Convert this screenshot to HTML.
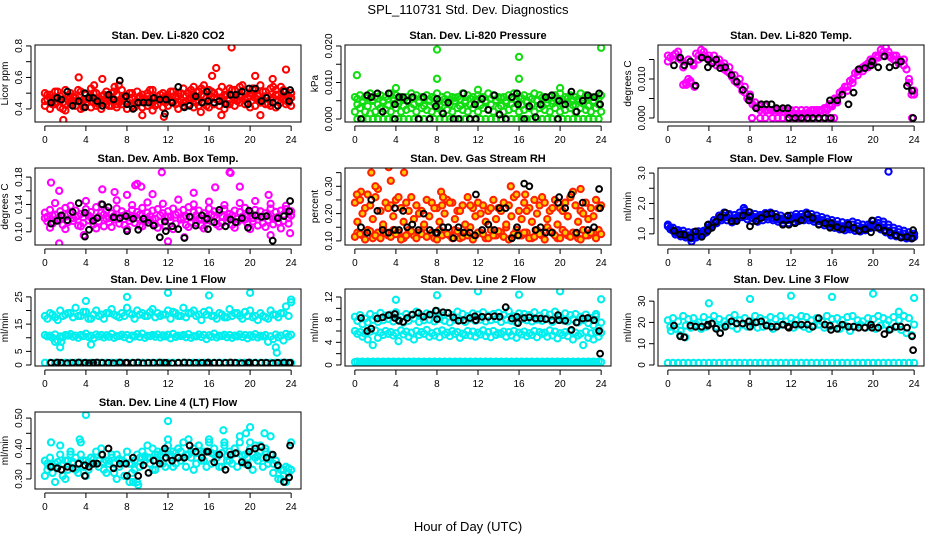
<!DOCTYPE html>
<html><head><meta charset="utf-8"><style>
body{margin:0;background:#fff;}
svg{display:block;font-family:"Liberation Sans",Arial,sans-serif;}
</style></head><body>
<svg id="chart" width="936" height="540" viewBox="0 0 936 540" xmlns="http://www.w3.org/2000/svg">
<rect width="936" height="540" fill="#fff"/>
<text x="468" y="14" font-size="13" text-anchor="middle">SPL_110731  Std. Dev. Diagnostics</text>
<text x="468" y="531" font-size="13" text-anchor="middle">Hour of Day (UTC)</text>
</svg>
<script>
const hrs=[0,0.5,1,1.5,2,2.5,3,3.5,4,4.5,5,5.5,6,6.5,7,7.5,8,8.5,9,9.5,10,10.5,11,11.5,12,12.5,13,13.5,14,14.5,15,15.5,16,16.5,17,17.5,18,18.5,19,19.5,20,20.5,21,21.5,22,22.5,23,23.5,24];
const hrsB=[0.25,0.75,1.25,1.75,2.25,2.75,3.25,3.75,4.25,4.75,5.25,5.75,6.25,6.75,7.25,7.75,8.25,8.75,9.25,9.75,10.25,10.75,11.25,11.75,12.25,12.75,13.25,13.75,14.25,14.75,15.25,15.75,16.25,16.75,17.25,17.75,18.25,18.75,19.25,19.75,20.25,20.75,21.25,21.75,22.25,22.75,23.25,23.75];
const kx=[0.6,1.2,1.6,2.2,2.7,3.3,3.9,3.9,4.3,4.7,5.1,5.6,6.2,6.7,7.3,7.9,8.0,8.6,9.1,9.6,10.1,10.6,11.2,11.7,11.8,12.4,13.0,13.6,14.1,14.7,15.3,15.8,15.9,16.5,17.0,17.6,18.1,18.6,19.2,19.8,19.9,20.5,21.1,21.6,22.2,22.7,23.3,23.8,23.9];
const xTicks=[0,4,8,12,16,20,24];

// Panel 1 CO2
const co2A=[0.50,0.49,0.51,0.48,0.52,0.50,0.47,0.51,0.49,0.53,0.50,0.48,0.51,0.50,0.49,0.52,0.48,0.50,0.51,0.49,0.50,0.52,0.48,0.50,0.49,0.51,0.50,0.53,0.50,0.49,0.51,0.55,0.52,0.50,0.51,0.49,0.53,0.52,0.54,0.51,0.50,0.52,0.55,0.51,0.53,0.52,0.54,0.51,0.50];
const co2B=[0.42,0.40,0.43,0.41,0.39,0.43,0.42,0.40,0.44,0.41,0.42,0.40,0.43,0.42,0.41,0.43,0.40,0.42,0.44,0.41,0.42,0.39,0.43,0.41,0.42,0.44,0.40,0.42,0.43,0.41,0.42,0.44,0.41,0.43,0.42,0.40,0.43,0.42,0.44,0.43,0.41,0.42,0.44,0.43,0.42,0.41,0.44,0.43,0.42];
const co2C=[0.46,0.45,0.47,0.44,0.46,0.48,0.45,0.46,0.47,0.44,0.46,0.45,0.47,0.46,0.45,0.48,0.46,0.44,0.47,0.46,0.45,0.47,0.46,0.48,0.45,0.47,0.46,0.48,0.47,0.45,0.49,0.47,0.48,0.46,0.47,0.49,0.48,0.46,0.48,0.47,0.49,0.48,0.46,0.48,0.47,0.49,0.46,0.47];
const co2D=[0.49,0.43,0.51,0.40,0.48,0.44,0.52,0.41,0.47,0.50,0.43,0.49,0.42,0.51,0.44,0.47,0.50,0.41,0.48,0.45,0.52,0.42,0.49,0.44,0.51,0.43,0.50,0.45,0.52,0.44,0.53,0.42,0.51,0.46,0.54,0.43,0.52,0.45,0.55,0.44,0.53,0.46,0.51,0.43,0.54,0.45,0.52,0.44];
const co2E=[0.45,0.47,0.44,0.46,0.43,0.47,0.45,0.44,0.46,0.48,0.44,0.46,0.45,0.47,0.43,0.46,0.45,0.47,0.44,0.46,0.48,0.44,0.46,0.45,0.47,0.45,0.48,0.44,0.46,0.47,0.45,0.48,0.46,0.47,0.45,0.48,0.46,0.47,0.49,0.46,0.48,0.47,0.45,0.48,0.46,0.49,0.47,0.46,0.47];
const co2OX=[1.8,3.3,5.6,7.2,16.7,18.2,23.5,16.3,20.5,22.2,9.5,11.6,15.2,17.2,21,4.8,14.5,6.8];
const co2OY=[0.33,0.60,0.59,0.55,0.66,0.79,0.65,0.61,0.61,0.59,0.36,0.35,0.38,0.36,0.36,0.55,0.54,0.54];
const co2K=[0.44,0.47,0.46,0.51,0.42,0.45,0.41,0.50,0.47,0.47,0.45,0.42,0.49,0.46,0.58,0.48,0.43,0.40,0.44,0.44,0.44,0.47,0.46,0.37,0.46,0.44,0.54,0.41,0.42,0.48,0.44,0.51,0.45,0.44,0.45,0.43,0.49,0.49,0.51,0.43,0.53,0.53,0.45,0.47,0.44,0.42,0.51,0.45,0.52];

// Panel 2 Pressure
const prA=[0.006,0.0065,0.006,0.007,0.006,0.0065,0.006,0.007,0.0065,0.006,0.006,0.007,0.0065,0.006,0.0065,0.006,0.007,0.006,0.0065,0.006,0.006,0.007,0.0065,0.006,0.0065,0.006,0.007,0.0065,0.006,0.006,0.0065,0.007,0.006,0.0065,0.006,0.007,0.0065,0.006,0.006,0.0065,0.007,0.006,0.0065,0.006,0.007,0.0065,0.006,0.006,0.0065];
const prB=[0.004,0.0045,0.0035,0.005,0.004,0.0045,0.0038,0.005,0.0042,0.0036,0.0048,0.004,0.0045,0.0035,0.005,0.0042,0.0038,0.0046,0.004,0.005,0.0036,0.0044,0.004,0.0048,0.0038,0.0045,0.004,0.005,0.0036,0.0044,0.0042,0.0048,0.0038,0.0045,0.004,0.005,0.0036,0.0044,0.0042,0.0048,0.004,0.0045,0.0038,0.005,0.0042,0.0036,0.0046,0.004];
const prC=[0.002,0.003,0.002,0.0015,0.002,0.003,0.0025,0.002,0.003,0.002,0.0025,0.003,0.002,0.003,0.0025,0.002,0.003,0.002,0.0025,0.002,0.003,0.0025,0.002,0.003,0.002,0.003,0.0025,0.002,0.003,0.002,0.0025,0.003,0.002,0.0025,0.003,0.002,0.003,0.0025,0.002,0.003,0.002,0.0025,0.003,0.002,0.003,0.0025,0.002,0.003,0.002];
const prD=[0,0,0,0,0,0,0,0,0,0,0,0,0,0,0,0,0,0,0,0,0,0,0,0,0,0,0,0,0,0,0,0,0,0,0,0,0,0,0,0,0,0,0,0,0,0,0,0];
const prE=[0.0055,0.005,0.0058,0.0052,0.0056,0.005,0.0054,0.0057,0.005,0.0055,0.0052,0.0058,0.005,0.0056,0.0053,0.0057,0.005,0.0055,0.0052,0.0058,0.0054,0.005,0.0056,0.0053,0.0057,0.005,0.0055,0.0052,0.0058,0.005,0.0056,0.0053,0.0057,0.005,0.0055,0.0052,0.0058,0.0054,0.005,0.0056,0.0053,0.0057,0.005,0.0055,0.0052,0.0058,0.005,0.0056];
const prOX=[0.2,8,8,16,16,24,4,12,20];
const prOY=[0.012,0.019,0.011,0.017,0.011,0.0195,0.0085,0.008,0.0085];
const prK=[0.0,0.0065,0.006,0.007,0.002,0.007,0.0,0.004,0.006,0.006,0.005,0.006,0.0,0.006,0.0,0.0035,0.0055,0.0015,0.0045,0.0,0.0,0.007,0.0,0.004,0.0,0.0055,0.0025,0.0065,0.0012,0.0,0.006,0.007,0.004,0.0,0.0035,0.0005,0.004,0.006,0.0065,0.0,0.005,0.004,0.0075,0.002,0.005,0.0065,0.006,0.007,0.004];

// Panel 3 Li-820 Temp
const tmA=[0.016,0.016,0.017,0.013,0.015,0.014,0.016,0.017,0.016,0.016,0.015,0.014,0.013,0.011,0.010,0.008,0.006,0.004,0.003,0.003,0.002,0.002,0.002,0.002,0.001,0.001,0.001,0.001,0.001,0.001,0.002,0.002,0.003,0.004,0.006,0.007,0.009,0.011,0.012,0.013,0.014,0.016,0.017,0.017,0.016,0.015,0.015,0.010,0.007];
const tmB=[0.0155,0.0165,0.015,0.009,0.009,0.0165,0.0175,0.0155,0.0145,0.0135,0.0135,0.012,0.0105,0.009,0.007,0.005,0.0035,0.0025,0.0025,0.002,0.002,0.002,0.0015,0.001,0.001,0.001,0.001,0.0015,0.002,0.002,0.0025,0.0035,0.005,0.0065,0.008,0.0095,0.0115,0.0125,0.0135,0.015,0.016,0.0175,0.018,0.0155,0.016,0.0145,0.0125,0.006];
const tmC=[0.0145,0.015,0.0155,0.0085,0.01,0.0135,0.015,0.016,0.015,0.0145,0.014,0.0125,0.0115,0.0095,0.0085,0.0065,0.0045,0.003,0.002,0.002,0.002,0.002,0.002,0.002,0.002,0.002,0.002,0.002,0.002,0.002,0.002,0.0025,0.0035,0.005,0.007,0.008,0.010,0.012,0.013,0.014,0.015,0.0155,0.016,0.016,0.015,0.014,0.0135,0.009,0.006];
const tmZX=[8.2,9,9.5,10.2,10.7,11.2,11.7,12.2,12.7,13.2,13.7,14.2,14.7,15.2,15.7,16.2,23.8,1.8,2.2,2.6];
const tmZY=[0,0,0,0,0,0,0,0,0,0,0,0,0,0,0,0,0,0.0085,0.0095,0.0080];
const tmK=[0.0135,0.0155,0.0135,0.0145,0.0083,0.0155,0.013,0.015,0.014,0.015,0.0128,0.013,0.011,0.0093,0.0072,0.0045,0.0055,0.0025,0.0035,0.0035,0.0035,0.0025,0.0025,0.0025,0.0,0.0,0.0,0.0,0.0,0.0,0.0,0.0045,0.0,0.0045,0.006,0.0035,0.0065,0.0125,0.0128,0.0135,0.0145,0.013,0.0158,0.013,0.0135,0.0145,0.0082,0.007,0.0];

// Panel 4 Amb box temp
const abA=[0.128,0.132,0.125,0.130,0.135,0.127,0.131,0.126,0.133,0.129,0.136,0.128,0.131,0.127,0.134,0.130,0.126,0.132,0.129,0.135,0.128,0.131,0.133,0.127,0.130,0.134,0.128,0.132,0.136,0.129,0.131,0.127,0.134,0.130,0.128,0.133,0.126,0.131,0.129,0.135,0.128,0.132,0.130,0.127,0.134,0.129,0.131,0.133,0.130];
const abB=[0.115,0.112,0.118,0.110,0.114,0.116,0.109,0.113,0.117,0.111,0.115,0.108,0.114,0.118,0.112,0.110,0.116,0.113,0.109,0.115,0.117,0.111,0.114,0.108,0.116,0.112,0.118,0.110,0.114,0.113,0.109,0.117,0.115,0.111,0.113,0.116,0.110,0.114,0.118,0.112,0.115,0.109,0.113,0.117,0.111,0.114,0.116,0.112];
const abC=[0.120,0.106,0.142,0.118,0.104,0.138,0.122,0.108,0.145,0.121,0.105,0.140,0.119,0.107,0.146,0.123,0.104,0.139,0.120,0.108,0.143,0.118,0.106,0.141,0.122,0.104,0.147,0.121,0.107,0.140,0.119,0.105,0.144,0.123,0.108,0.139,0.120,0.106,0.142,0.118,0.104,0.145,0.122,0.107,0.141,0.120,0.105,0.138,0.124];
const abD=[0.122,0.124,0.119,0.121,0.125,0.120,0.123,0.121,0.124,0.118,0.122,0.125,0.120,0.123,0.119,0.124,0.121,0.122,0.125,0.120,0.123,0.119,0.124,0.121,0.122,0.125,0.120,0.123,0.121,0.124,0.119,0.122,0.125,0.120,0.123,0.121,0.124,0.119,0.122,0.125,0.120,0.123,0.121,0.124,0.119,0.122,0.125,0.120];
const abOX=[0.6,1.4,1.4,3.8,5.6,6.8,8,8.8,9,9.4,11.4,12,13.6,16.6,18,18.1,19,22,23.9,21.8,10.5,14.5];
const abOY=[0.172,0.16,0.083,0.095,0.162,0.158,0.154,0.168,0.17,0.166,0.187,0.086,0.092,0.165,0.187,0.186,0.166,0.095,0.098,0.154,0.155,0.157];
const abK=[0.112,0.116,0.124,0.117,0.129,0.142,0.093,0.128,0.103,0.116,0.120,0.140,0.136,0.121,0.120,0.123,0.101,0.119,0.103,0.119,0.113,0.109,0.092,0.115,0.101,0.108,0.104,0.091,0.122,0.109,0.124,0.119,0.104,0.114,0.132,0.108,0.118,0.114,0.120,0.106,0.131,0.124,0.122,0.123,0.087,0.120,0.123,0.130,0.145];

// Panel 5 Gas stream RH
const rhA=[0.24,0.25,0.22,0.23,0.26,0.21,0.24,0.23,0.25,0.22,0.24,0.26,0.23,0.21,0.25,0.24,0.22,0.23,0.25,0.24,0.21,0.23,0.26,0.22,0.24,0.23,0.21,0.25,0.22,0.24,0.23,0.26,0.21,0.24,0.22,0.25,0.23,0.24,0.21,0.25,0.22,0.24,0.26,0.23,0.21,0.24,0.22,0.25,0.23];
const rhB=[0.13,0.12,0.14,0.11,0.13,0.15,0.12,0.14,0.13,0.11,0.14,0.12,0.13,0.15,0.12,0.11,0.14,0.13,0.12,0.14,0.11,0.13,0.15,0.12,0.13,0.11,0.14,0.12,0.13,0.15,0.11,0.14,0.12,0.13,0.11,0.14,0.12,0.15,0.13,0.11,0.14,0.12,0.13,0.11,0.14,0.12,0.13,0.14];
const rhC=[0.115,0.125,0.105,0.135,0.12,0.11,0.13,0.115,0.125,0.105,0.12,0.135,0.11,0.125,0.115,0.13,0.105,0.12,0.125,0.11,0.135,0.115,0.12,0.105,0.13,0.125,0.11,0.12,0.135,0.115,0.105,0.125,0.12,0.13,0.11,0.115,0.125,0.105,0.135,0.12,0.11,0.13,0.115,0.125,0.105,0.12,0.13,0.11,0.125];
const rhD=[0.17,0.20,0.27,0.18,0.29,0.16,0.22,0.19,0.26,0.17,0.21,0.18,0.20,0.16,0.19,0.22,0.17,0.20,0.24,0.18,0.21,0.16,0.23,0.19,0.20,0.17,0.22,0.18,0.21,0.16,0.19,0.27,0.18,0.21,0.17,0.20,0.26,0.18,0.22,0.16,0.21,0.19,0.28,0.17,0.20,0.18,0.19,0.22];
const rhOX=[0.6,1.6,3.3,3.5,4.8,2,8.4,8.6,15.2,22,16.6,0.2];
const rhOY=[0.28,0.35,0.37,0.32,0.35,0.30,0.28,0.26,0.30,0.29,0.27,0.27];
const rhK=[0.15,0.13,0.25,0.21,0.14,0.13,0.22,0.14,0.14,0.21,0.15,0.16,0.14,0.20,0.14,0.13,0.13,0.15,0.15,0.11,0.15,0.13,0.13,0.12,0.27,0.14,0.16,0.14,0.22,0.22,0.11,0.15,0.12,0.31,0.30,0.14,0.15,0.13,0.13,0.24,0.26,0.22,0.27,0.13,0.24,0.14,0.15,0.29,0.22];

// Panel 6 Sample flow
const sfA=[1.25,1.1,1.05,1.0,0.95,0.95,1.0,1.0,1.2,1.35,1.5,1.6,1.6,1.5,1.6,1.7,1.6,1.55,1.55,1.6,1.6,1.55,1.5,1.45,1.5,1.55,1.55,1.6,1.55,1.5,1.45,1.4,1.35,1.3,1.25,1.25,1.3,1.25,1.2,1.2,1.3,1.35,1.3,1.2,1.1,1.05,1.0,0.95,0.9];
const sfB=[1.15,0.98,0.92,0.88,0.85,0.88,0.92,1.05,1.22,1.35,1.45,1.45,1.38,1.48,1.55,1.48,1.42,1.40,1.45,1.48,1.45,1.40,1.35,1.35,1.40,1.42,1.45,1.45,1.40,1.32,1.28,1.25,1.20,1.15,1.12,1.15,1.10,1.08,1.12,1.20,1.22,1.15,1.05,0.95,0.92,0.88,0.85,0.85];
const sfC=[1.30,1.20,1.12,1.10,1.05,1.05,1.08,1.10,1.30,1.45,1.60,1.70,1.65,1.62,1.70,1.78,1.70,1.65,1.62,1.68,1.70,1.65,1.60,1.55,1.60,1.65,1.65,1.70,1.65,1.60,1.55,1.50,1.45,1.42,1.38,1.35,1.40,1.35,1.30,1.30,1.42,1.45,1.40,1.30,1.20,1.15,1.10,1.05,1.00];
const sfD=[1.2,1.05,1.0,0.95,0.92,0.95,0.98,1.12,1.3,1.42,1.52,1.55,1.5,1.55,1.62,1.58,1.52,1.5,1.55,1.56,1.52,1.48,1.45,1.46,1.5,1.52,1.55,1.52,1.48,1.42,1.38,1.32,1.28,1.25,1.2,1.22,1.18,1.15,1.18,1.28,1.3,1.22,1.12,1.02,0.98,0.95,0.92,0.9];
const sfOX=[21.5,7.4,2.3];
const sfOY=[3.05,1.85,0.75];
const sfK=[1.10,0.98,0.97,0.88,1.08,0.90,1.10,1.30,1.20,1.40,1.55,1.70,1.42,1.42,1.60,1.72,1.25,1.42,1.52,1.65,1.67,1.55,1.30,1.60,1.30,1.35,1.45,1.65,1.52,1.30,1.35,1.20,1.35,1.22,1.15,1.30,1.20,1.10,1.15,1.05,1.44,1.20,1.10,1.05,0.95,0.88,0.90,0.85,1.12];

// Panel 7 Line 1 flow
const l1A=[18,19,17.5,20,18.5,19,21,18,19.5,17,20,18.5,19,20.5,18,19,21,18.5,20,19,18,20.5,19,18.5,20,19.5,18,21,19,20,18.5,19.5,20,18,19,17.5,20.5,19,18,19.5,20,18,19,17.5,20,18.5,19,21.5,23];
const l1B=[17,18.5,16.5,18,19,17.5,18,19.5,17,18.5,18,17,19,18.5,17.5,18,19,17,18.5,18,19.5,17.5,18,18.5,17,19,18,17.5,19,18,16.5,18.5,18,17,18.5,17.5,18,19,17,18,17.5,16.5,18,17,18.5,17.5,19,18];
const l1C=[11,10.8,11.2,10.5,11,11.3,10.8,11,11.5,10.7,11.2,11,10.9,11.4,10.6,11.1,11,10.8,11.3,11.5,10.7,11,11.2,10.9,11.1,11.4,10.8,11,11.3,10.6,11.2,11,10.9,11.5,10.7,11.1,11,10.8,11.2,11,10.9,11.3,10.7,11,10.5,11.2,10.8,11.4,11.1];
const l1D=[10.5,10,9,10.2,10.8,10.4,10,10.6,10.3,9.8,10.5,10.1,10.4,10,10.6,10.2,9.5,10.5,10.3,10,10.6,10.4,10.1,10.5,9.8,10.3,10.6,10.2,10,10.5,10.3,9.5,10.4,10.1,10.6,10.2,10,10.5,10.3,9.8,10.4,10.1,10.5,8.5,9.5,10.2,9,10.5];
const l1E=[0.8,0.8,0.8,0.8,0.8,0.8,0.8,0.8,0.8,0.8,0.8,0.8,0.8,0.8,0.8,0.8,0.8,0.8,0.8,0.8,0.8,0.8,0.8,0.8,0.8,0.8,0.8,0.8,0.8,0.8,0.8,0.8,0.8,0.8,0.8,0.8,0.8,0.8,0.8,0.8,0.8,0.8,0.8,0.8,0.8,0.8,0.8,0.8,0.8];
const l1OX=[4,8,12,16,20,24,1.5,4.5,22.5,22.6,1,1.6];
const l1OY=[23.5,25,26.5,25.5,26.5,24,6.5,7.5,6.5,4.5,8.5,8.5];
const l1K=[0.8,0.9,0.8,0.7,0.8,0.9,0.8,0.8,0.7,0.8,0.9,0.8,0.8,0.7,0.9,0.8,0.8,0.8,0.9,0.7,0.8,0.8,0.9,0.8,0.8,0.7,0.8,0.9,0.8,0.8,0.8,0.7,0.9,0.8,0.8,0.8,0.9,0.8,0.7,0.8,0.9,0.8,0.8,0.8,0.7,0.8,0.9,0.8,0.8];

// Panel 8 Line 2 flow
const l2A=[8.5,8.8,8.2,9,8.6,9.2,8.7,8.9,9.3,8.5,9,8.8,9.4,8.6,9.1,8.9,9.5,8.7,9.2,8.8,9.4,9,8.6,9.1,8.9,9.3,8.7,9,9.2,8.8,9.5,8.6,9.1,9,8.8,9.3,8.7,9.2,8.9,9.4,8.6,9.1,8.8,9,8.5,8.9,8.3,8.6,7.5];
const l2B=[7.8,7.2,7.5,8,7.6,7.9,8.1,7.7,8,7.5,7.8,8.2,7.6,7.9,8,7.7,8.1,7.8,7.5,8,7.9,7.6,8.2,7.8,8,7.7,7.9,8.1,7.6,8,7.8,7.5,8.1,7.9,7.7,8,7.8,8.2,7.6,8,7.9,7.7,8.1,7.5,7.9,7.4,7,6.5];
const l2C=[6,5.8,5.5,5.9,6.1,5.7,6,5.8,5.6,6.1,5.9,5.7,6,5.8,6.2,5.6,5.9,6.1,5.7,6,5.8,5.5,6,5.9,5.7,6.1,5.8,6,5.6,5.9,5.8,6,5.7,5.9,5.6,6,5.8,5.7,6.1,5.9,5.6,5.8,6,5.7,5.5,5.9,5.6,5.8,5.7];
const l2D=[5.5,5,4.5,3.5,4.8,5.3,5.5,5.2,4.2,5.4,5,4.5,5.3,5.5,5,5.2,4.9,5.4,5.1,5.5,4.8,5.3,5.2,5,5.4,5.1,4.9,5.3,5.5,5,5.2,4.8,5.4,5.1,5.3,4.9,5.5,5,5.2,4.7,5.3,5.1,4.5,5.2,3.5,4.8,4.5,5];
const l2E=[0.5,0.5,0.5,0.5,0.5,0.5,0.5,0.5,0.5,0.5,0.5,0.5,0.5,0.5,0.5,0.5,0.5,0.5,0.5,0.5,0.5,0.5,0.5,0.5,0.5,0.5,0.5,0.5,0.5,0.5,0.5,0.5,0.5,0.5,0.5,0.5,0.5,0.5,0.5,0.5,0.5,0.5,0.5,0.5,0.5,0.5,0.5,0.5,0.5];
const l2F=[0.6,0.6,0.6,0.6,0.6,0.6,0.6,0.6,0.6,0.6,0.6,0.6,0.6,0.6,0.6,0.6,0.6,0.6,0.6,0.6,0.6,0.6,0.6,0.6,0.6,0.6,0.6,0.6,0.6,0.6,0.6,0.6,0.6,0.6,0.6,0.6,0.6,0.6,0.6,0.6,0.6,0.6,0.6,0.6,0.6,0.6,0.6,0.6];
const l2OX=[4,8,12,16,20,24,23.5];
const l2OY=[11.5,12.3,13,12.4,13,11.6,9];
const l2K=[8.3,6,6.4,8.2,8.4,8.8,9,8.3,7.8,7.6,8.3,8.9,9.2,8.5,8.9,9.6,8.1,9.3,9.2,8.4,7.8,7.9,8.3,8.6,7.9,8.5,8.5,8.6,8.5,10.2,8.2,8.5,7.4,8.3,8.4,8.2,8.2,8.1,7.9,8.8,7.9,7.8,6.2,7.5,8.2,8.3,7.9,6,2];

// Panel 9 Line 3 flow
const l3A=[21,22,20.5,23,21.5,22,20,22.5,21,23,21.5,20.5,22,23.5,21,22,20.5,23,22,21,22.5,21.5,23,20.5,22,21,23,22.5,21,22,20.5,23,21.5,22,21,22.5,23,21,20.5,22,21.5,23,22,21,22.5,21,23,22,19];
const l3B=[18,17,16,18.5,17.5,19,17,18,19.5,18,17.5,19,18.5,17,19,18,19.5,17.5,18,19,17,18.5,19,18,17.5,19,18,17,18.5,19,17.5,18,19,17,18.5,16,18,19,17.5,18,17,18.5,19,17,18,16.5,15,14];
const l3E=[1,1,1,1,1,1,1,1,1,1,1,1,1,1,1,1,1,1,1,1,1,1,1,1,1,1,1,1,1,1,1,1,1,1,1,1,1,1,1,1,1,1,1,1,1,1,1,1,1];
const l3OX=[4,8,12,16,20,24,0.3,1.2,1.7,22.5];
const l3OY=[29,31,32.5,32,33.5,31.5,16,14,13,25];
const l3K=[18.5,13.5,13,18.5,18,18,19,18.5,19.5,17,15,18,20.5,19.5,19.5,20.5,18,20,20.5,18.5,18,18,19,18,17.5,19,19,19,18,22,19,18.5,16.5,17,19,18,18,17.5,17.5,19,17.5,17.5,14.5,16.5,18,18,17.5,13.5,7];

// Panel 10 Line 4 flow
const l4A=[0.36,0.37,0.35,0.38,0.36,0.39,0.37,0.38,0.36,0.37,0.39,0.38,0.36,0.37,0.38,0.36,0.37,0.35,0.38,0.39,0.37,0.40,0.38,0.39,0.41,0.39,0.40,0.42,0.38,0.40,0.41,0.39,0.42,0.40,0.38,0.41,0.39,0.40,0.42,0.38,0.40,0.41,0.39,0.40,0.38,0.36,0.33,0.34,0.33];
const l4B=[0.33,0.32,0.34,0.31,0.33,0.35,0.32,0.34,0.33,0.35,0.34,0.33,0.35,0.32,0.34,0.31,0.29,0.33,0.34,0.36,0.35,0.33,0.36,0.34,0.37,0.35,0.36,0.34,0.37,0.35,0.36,0.34,0.35,0.37,0.34,0.36,0.35,0.34,0.36,0.35,0.33,0.36,0.34,0.35,0.32,0.30,0.31,0.32];
const l4C=[0.31,0.34,0.29,0.41,0.30,0.38,0.33,0.42,0.31,0.37,0.35,0.40,0.32,0.38,0.30,0.36,0.39,0.32,0.29,0.37,0.41,0.33,0.39,0.35,0.43,0.34,0.40,0.37,0.43,0.33,0.41,0.36,0.43,0.38,0.34,0.42,0.36,0.40,0.44,0.35,0.42,0.37,0.41,0.39,0.44,0.36,0.30,0.29,0.42];
const l4D=[0.35,0.345,0.355,0.35,0.36,0.355,0.35,0.36,0.355,0.365,0.36,0.355,0.36,0.35,0.365,0.355,0.35,0.36,0.37,0.375,0.37,0.38,0.375,0.385,0.38,0.385,0.39,0.38,0.39,0.385,0.38,0.39,0.385,0.38,0.385,0.375,0.38,0.385,0.375,0.37,0.38,0.375,0.37,0.365,0.35,0.34,0.33,0.335];
const l4OX=[4,12,17.4,20,19.6,21.4,0.6,3.4,8.6,9.1];
const l4OY=[0.51,0.49,0.46,0.47,0.45,0.45,0.42,0.43,0.29,0.28];
const l4K=[0.34,0.335,0.33,0.34,0.335,0.35,0.31,0.345,0.34,0.35,0.35,0.38,0.40,0.335,0.35,0.35,0.31,0.37,0.31,0.345,0.32,0.36,0.35,0.40,0.37,0.36,0.37,0.37,0.41,0.39,0.37,0.39,0.39,0.355,0.38,0.33,0.38,0.385,0.355,0.345,0.39,0.40,0.405,0.37,0.38,0.345,0.29,0.305,0.41];

const NS='http://www.w3.org/2000/svg';
const svg=document.getElementById('chart');
function mk(tag,attrs,parent){const e=document.createElementNS(NS,tag);for(const k in attrs)e.setAttribute(k,attrs[k]);parent.appendChild(e);return e;}

const colX=[35,345,658], rowY=[45,168,289,412], W=266, H=77;
const panels=[
 {c:0,r:0,name:'co2',title:'Stan. Dev. Li-820 CO2',ylab:'Licor ppm',ylim:[0.317,0.806],ticks:[0.4,0.5,0.6,0.7,0.8],labels:[0.4,0.6,0.8],dec:1,color:'#ff0000',fill:'none',
  series:[[hrs,co2A],[hrs,co2B],[hrsB,co2C],[hrsB,co2D],[hrs,co2E],[co2OX,co2OY]],k:co2K},
 {c:1,r:0,name:'pressure',title:'Stan. Dev. Li-820 Pressure',ylab:'kPa',ylim:[-0.00082,0.02027],ticks:[0,0.005,0.01,0.015,0.02],labels:[0,0.01,0.02],dec:3,color:'#11dd11',fill:'none',
  series:[[hrs,prA],[hrsB,prB],[hrs,prC],[hrsB,prD],[hrsB,prE],[prOX,prOY]],k:prK},
 {c:2,r:0,name:'li820-temp',title:'Stan. Dev. Li-820 Temp.',ylab:'degrees C',ylim:[-0.00103,0.01872],ticks:[0,0.005,0.01,0.015],labels:[0,0.01],dec:3,color:'#ff00ff',fill:'none',
  series:[[hrs,tmA],[hrsB,tmB],[hrs,tmC],[tmZX,tmZY]],k:tmK},
 {c:0,r:1,name:'amb-box-temp',title:'Stan. Dev. Amb. Box Temp.',ylab:'degrees C',ylim:[0.0807,0.1933],ticks:[0.10,0.12,0.14,0.16,0.18],labels:[0.10,0.14,0.18],dec:2,color:'#ff00ff',fill:'none',
  series:[[hrs,abA],[hrsB,abB],[hrs,abC],[hrsB,abD],[abOX,abOY]],k:abK},
 {c:1,r:1,name:'gas-stream-rh',title:'Stan. Dev. Gas Stream RH',ylab:'percent',ylim:[0.085,0.367],ticks:[0.10,0.15,0.20,0.25,0.30,0.35],labels:[0.10,0.20,0.30],dec:2,color:'#ff2200',fill:'#ffcc00',
  series:[[hrs,rhA],[hrsB,rhB],[hrs,rhC],[hrsB,rhD],[rhOX,rhOY]],k:rhK},
 {c:2,r:1,name:'sample-flow',title:'Stan. Dev. Sample Flow',ylab:'ml/min',ylim:[0.633,3.167],ticks:[1,1.5,2,2.5,3],labels:[1,2,3],dec:1,color:'#0000ff',fill:'none',
  series:[[hrs,sfA],[hrsB,sfB],[hrs,sfC],[hrsB,sfD],[sfOX,sfOY]],k:sfK},
 {c:0,r:2,name:'line1-flow',title:'Stan. Dev. Line 1 Flow',ylab:'ml/min',ylim:[-0.37,27.9],ticks:[0,5,10,15,20,25],labels:[0,5,15,25],dec:0,color:'#00eeee',fill:'none',
  series:[[hrs,l1A],[hrsB,l1B],[hrs,l1C],[hrsB,l1D],[hrs,l1E],[l1OX,l1OY]],k:l1K},
 {c:1,r:2,name:'line2-flow',title:'Stan. Dev. Line 2 Flow',ylab:'ml/min',ylim:[-0.18,13.41],ticks:[0,2,4,6,8,10,12],labels:[0,4,8,12],dec:0,color:'#00eeee',fill:'none',
  series:[[hrs,l2A],[hrsB,l2B],[hrs,l2C],[hrsB,l2D],[hrs,l2E],[hrsB,l2F],[l2OX,l2OY]],k:l2K},
 {c:2,r:2,name:'line3-flow',title:'Stan. Dev. Line 3 Flow',ylab:'ml/min',ylim:[-0.47,35.7],ticks:[0,10,20,30],labels:[0,10,20,30],dec:0,color:'#00eeee',fill:'none',
  series:[[hrs,l3A],[hrsB,l3B],[hrs,l3E],[l3OX,l3OY]],k:l3K},
 {c:0,r:3,name:'line4-flow',title:'Stan. Dev. Line 4 (LT) Flow',ylab:'ml/min',ylim:[0.267,0.52],ticks:[0.30,0.35,0.40,0.45,0.50],labels:[0.30,0.40,0.50],dec:2,color:'#00eeee',fill:'none',
  series:[[hrs,l4A],[hrsB,l4B],[hrs,l4C],[hrsB,l4D],[l4OX,l4OY]],k:l4K}
];

panels.forEach(p=>{
  const x0=colX[p.c], y0=rowY[p.r];
  const g=mk('g',{},svg);
  
  
  const sx=v=>x0+(v+0.96)/25.92*W;
  const sy=v=>y0+H-(v-p.ylim[0])/(p.ylim[1]-p.ylim[0])*H;
  const t=mk('text',{x:x0+W/2,y:y0-6,'font-size':11,'font-weight':'bold','text-anchor':'middle'},g);
  t.textContent=p.title;
  
  
  const clip='clip-'+p.name;
  const cp=mk('clipPath',{id:clip},g);
  mk('rect',{x:x0,y:y0,width:W,height:H},cp);
  const pts=mk('g',{'clip-path':'url(#'+clip+')'},g);
  
  
  p.series.forEach(s=>{
    const n=Math.min(s[0].length,s[1].length);
    for(let i=0;i<n;i++){
      const c=mk('circle',{cx:sx(s[0][i]).toFixed(1),cy:sy(s[1][i]).toFixed(1),r:3.1,fill:p.fill,stroke:p.color,'stroke-width':2.1},pts);
      
      
    }
  });
  const n=Math.min(kx.length,p.k.length);
  for(let i=0;i<n;i++){
    const c=mk('circle',{cx:sx(kx[i]).toFixed(1),cy:sy(p.k[i]).toFixed(1),r:2.9,fill:'none',stroke:'#000','stroke-width':2},pts);
    
    
  }
  const b=mk('rect',{x:x0,y:y0,width:W,height:H,fill:'none',stroke:'#000','stroke-width':1},g);
  
  
  const xa=mk('g',{},g);
  
  
  mk('line',{x1:sx(xTicks[0]),x2:sx(xTicks[xTicks.length-1]),y1:y0+H+4,y2:y0+H+4,stroke:'#000'},xa);
  xTicks.forEach(v=>{
    mk('line',{x1:sx(v),x2:sx(v),y1:y0+H+4,y2:y0+H+9,stroke:'#000'},xa);
    const tl=mk('text',{x:sx(v),y:y0+H+21,'font-size':10,'text-anchor':'middle'},xa);
    tl.textContent=v;
    
    
  });
  const ya=mk('g',{},g);
  
  
  const ax=x0-4;
  mk('line',{x1:ax,x2:ax,y1:sy(p.ticks[0]),y2:sy(p.ticks[p.ticks.length-1]),stroke:'#000'},ya);
  p.ticks.forEach(v=>{mk('line',{x1:ax-5,x2:ax,y1:sy(v),y2:sy(v),stroke:'#000'},ya);});
  p.labels.forEach(v=>{
    const yy=sy(v);
    const tl=mk('text',{x:0,y:0,'font-size':10,'text-anchor':'middle',transform:'translate('+(ax-9)+','+yy+') rotate(-90)'},ya);
    tl.textContent=v.toFixed(p.dec);
    
    
  });
  const yl=mk('text',{x:0,y:0,'font-size':10,'text-anchor':'middle',transform:'translate('+(x0-27)+','+(y0+H/2)+') rotate(-90)'},ya);
  yl.textContent=p.ylab;
  
  
});
</script>
</body></html>
